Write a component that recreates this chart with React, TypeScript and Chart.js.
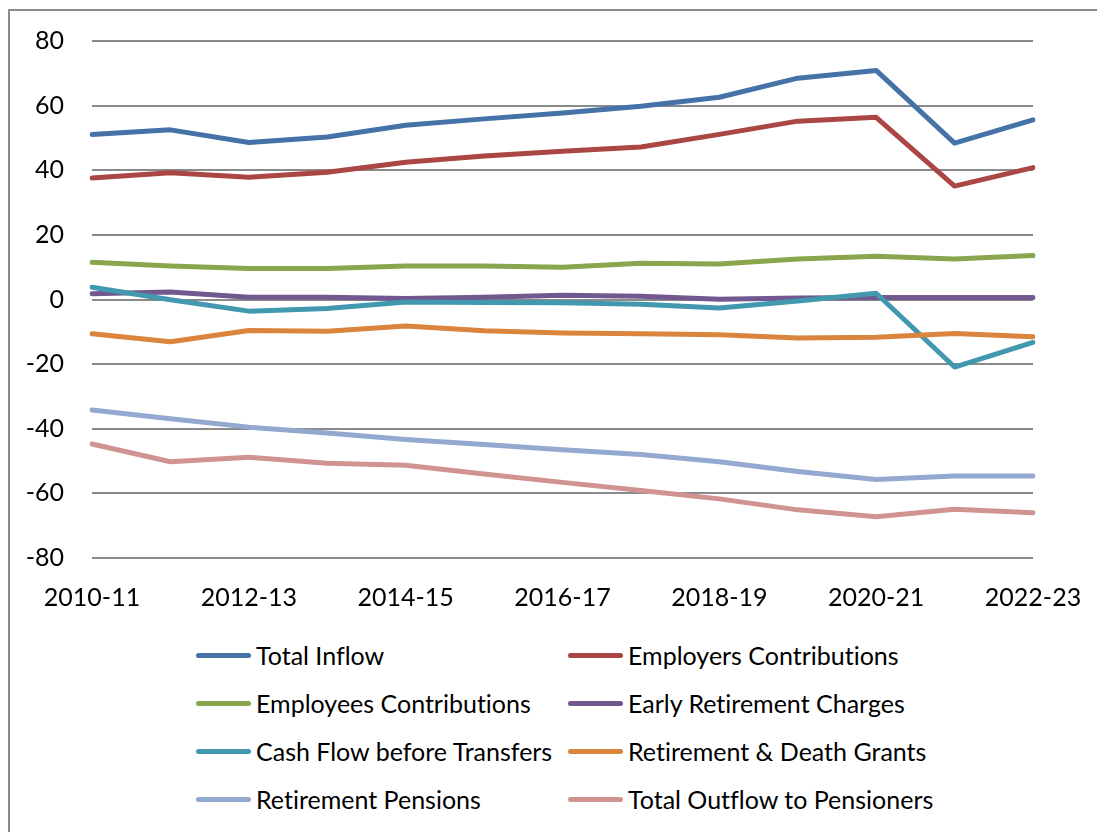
import React, { useEffect, useRef } from "react";
import { Chart, registerables } from "chart.js";

Chart.register(...registerables);

const categories = [
  "2010-11", "2011-12", "2012-13", "2013-14", "2014-15", "2015-16", "2016-17",
  "2017-18", "2018-19", "2019-20", "2020-21", "2021-22", "2022-23",
];

const yTicks = { min: -80, max: 80, step: 20 };

const totalInflow = [51.1, 52.5, 48.6, 50.3, 53.9, 55.9, 57.7, 59.8, 62.6, 68.5, 70.9, 48.4, 55.6];
const employersContributions = [37.6, 39.2, 37.8, 39.4, 42.5, 44.4, 45.9, 47.2, 51.1, 55.2, 56.4, 35.1, 40.8];
const employeesContributions = [11.5, 10.4, 9.6, 9.6, 10.4, 10.4, 10.0, 11.2, 11.0, 12.5, 13.4, 12.5, 13.6];
const earlyRetirementCharges = [1.8, 2.3, 0.7, 0.7, 0.3, 0.7, 1.3, 1.0, 0.1, 0.5, 0.6, 0.6, 0.6];
const cashFlowBeforeTransfers = [3.8, -0.1, -3.6, -2.8, -0.8, -0.9, -1.0, -1.5, -2.6, -0.5, 1.95, -20.9, -13.3];
const retirementDeathGrants = [-10.6, -13.1, -9.6, -9.8, -8.2, -9.7, -10.4, -10.6, -10.9, -11.9, -11.7, -10.5, -11.5];
const retirementPensions = [-34.2, -36.9, -39.5, -41.3, -43.3, -44.9, -46.5, -48.0, -50.2, -53.2, -55.7, -54.6, -54.6];
const totalOutflowToPensioners = [-44.7, -50.2, -48.8, -50.7, -51.3, -54.0, -56.6, -59.1, -61.7, -65.1, -67.2, -64.9, -66.0];

const seriesNames = [
  "Total Inflow",
  "Employers Contributions",
  "Employees Contributions",
  "Early Retirement Charges",
  "Cash Flow before Transfers",
  "Retirement & Death Grants",
  "Retirement Pensions",
  "Total Outflow to Pensioners",
];
const seriesValues = [
  totalInflow,
  employersContributions,
  employeesContributions,
  earlyRetirementCharges,
  cashFlowBeforeTransfers,
  retirementDeathGrants,
  retirementPensions,
  totalOutflowToPensioners,
];
const seriesColors = [
  "#4572A7",
  "#AA4643",
  "#89A54E",
  "#71588F",
  "#4198AF",
  "#DB843D",
  "#93A9CF",
  "#D19392",
];

const FONT = "Lato, 'Open Sans', sans-serif";
const CANVAS_W = 1085;
const CANVAS_H = 625;
const PLOT_LEFT = 82;
const PLOT_RIGHT = 1023;
const PLOT_TOP = 30;
const PLOT_BOTTOM = 547;

export default function App() {
  const canvasRef = useRef<HTMLCanvasElement | null>(null);

  useEffect(() => {
    const canvas = canvasRef.current;
    if (!canvas) return;
    const chart = new Chart(canvas, {
      type: "line",
      data: {
        labels: categories,
        datasets: seriesNames.map((name, i) => ({
          label: name,
          data: seriesValues[i],
          borderColor: seriesColors[i],
          backgroundColor: seriesColors[i],
          borderWidth: 5,
          pointRadius: 0,
          pointHoverRadius: 0,
          tension: 0,
          fill: false,
          borderCapStyle: "round",
          borderJoinStyle: "round",
          order: seriesNames.length - i,
        })),
      },
      options: {
        responsive: false,
        animation: false,
        events: [],
        layout: {
          padding: { left: 0, top: PLOT_TOP, right: CANVAS_W - PLOT_RIGHT, bottom: 0 },
        },
        plugins: {
          legend: { display: false },
          tooltip: { enabled: false },
        },
        scales: {
          x: {
            type: "category",
            offset: false,
            grid: {
              display: true,
              drawOnChartArea: false,
              drawTicks: true,
              tickLength: 25,
              color: "rgba(0,0,0,0)",
              tickColor: "rgba(0,0,0,0)",
            },
            border: { display: false },
            ticks: {
              autoSkip: false,
              maxRotation: 0,
              minRotation: 0,
              padding: 0,
              color: "#000",
              font: { family: FONT, size: 25 },
              callback: (_v: any, i: number) => (i % 2 === 0 ? categories[i] : ""),
            },
            afterFit: (scale: any) => {
              scale.height = CANVAS_H - PLOT_BOTTOM;
            },
          },
          y: {
            min: yTicks.min,
            max: yTicks.max,
            grid: {
              color: "#8a8a8a",
              lineWidth: 2,
              drawTicks: true,
              tickLength: 28,
              tickColor: "rgba(0,0,0,0)",
            },
            border: { display: false },
            ticks: {
              stepSize: yTicks.step,
              padding: 0,
              color: "#000",
              font: { family: FONT, size: 25 },
            },
            afterFit: (scale: any) => {
              scale.width = PLOT_LEFT;
            },
          },
        },
      },
    });
    return () => chart.destroy();
  }, []);

  const legendCols = [186, 558];
  const legendRows = [644, 692, 740, 788];

  return (
    <div
      style={{
        position: "fixed",
        left: 8,
        top: 9,
        width: 1089,
        height: 823,
        borderLeft: "2px solid #8a8a8a",
        borderTop: "2px solid #8a8a8a",
        background: "#fff",
        boxSizing: "border-box",
      }}
    >
      <canvas
        ref={canvasRef}
        width={CANVAS_W}
        height={CANVAS_H}
        style={{ position: "absolute", left: 0, top: 0, width: CANVAS_W, height: CANVAS_H }}
      />
      {seriesNames.map((name, i) => (
        <div
          key={name}
          style={{
            position: "absolute",
            left: legendCols[i % 2],
            top: legendRows[Math.floor(i / 2)] - 16,
            height: 32,
            display: "flex",
            alignItems: "center",
            whiteSpace: "nowrap",
            fontFamily: FONT,
            fontSize: 25,
            fontVariantLigatures: "none",
            color: "#000",
          }}
        >
          <span
            style={{
              display: "inline-block",
              width: 55,
              height: 5,
              borderRadius: 3,
              background: seriesColors[i],
              marginRight: 5,
            }}
          />
          <span>{name}</span>
        </div>
      ))}
    </div>
  );
}
